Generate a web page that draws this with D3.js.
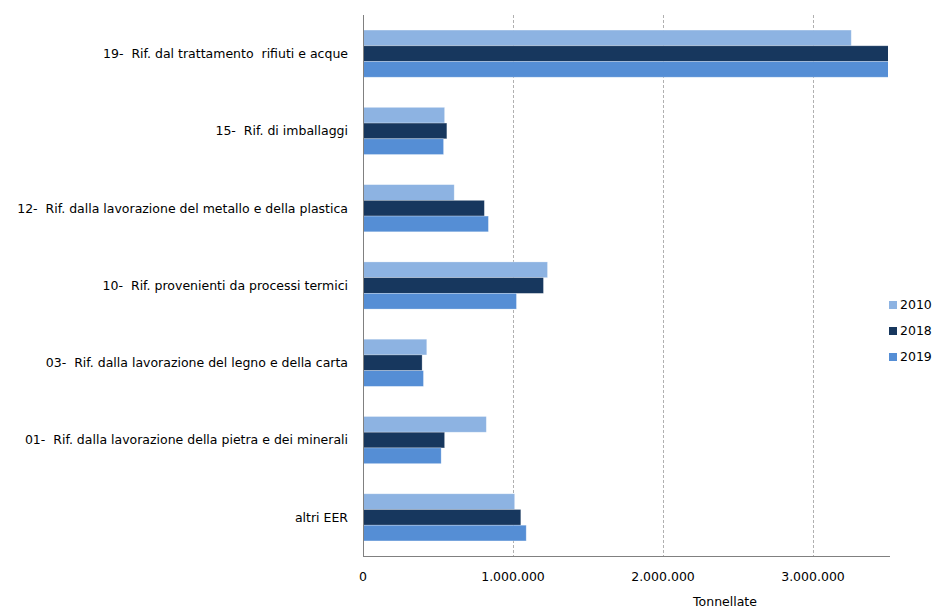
<!DOCTYPE html>
<html>
<head>
<meta charset="utf-8">
<script src="https://cdn.jsdelivr.net/npm/d3@7"></script>
<style>
  body { margin: 0; background: #fff; }
  svg { display: block; }
  text { font-family: "DejaVu Sans", Verdana, sans-serif; fill: #000; white-space: pre; }
</style>
</head>
<body>
<svg id="chart" width="932" height="608"></svg>
<script>
// Rifiuti per capitolo EER (tonnellate)
const categories = [
  "19-  Rif. dal trattamento  rifiuti e acque",
  "15-  Rif. di imballaggi",
  "12-  Rif. dalla lavorazione del metallo e della plastica",
  "10-  Rif. provenienti da processi termici",
  "03-  Rif. dalla lavorazione del legno e della carta",
  "01-  Rif. dalla lavorazione della pietra e dei minerali",
  "altri EER"
];
const years = ["2010", "2018", "2019"];
const values2010 = [3255000, 544000, 608000, 1230000, 425000, 822000, 1011000];
const values2018 = [3620000, 559000, 809000, 1203000, 394000, 544000, 1052000];
const values2019 = [3680000, 537000, 836000, 1023000, 403000, 521000, 1088000];
const xTicks = [0, 1000000, 2000000, 3000000];
const colors = ["#8DB3E2", "#17375E", "#558ED5"];

const series = [values2010, values2018, values2019];
const svg = d3.select("#chart");
const plotLeft = 363, plotRight = 888, plotTop = 15, plotBottom = 556;

const x = d3.scaleLinear().domain([0, 3500000]).range([plotLeft, plotRight]);
const y = d3.scaleBand().domain(categories).range([plotTop, plotBottom]).paddingInner(0.39).paddingOuter(0.195);
const yInner = d3.scaleBand().domain(years).range([0, y.bandwidth()]);

svg.append("defs").append("clipPath").attr("id", "plot")
  .append("rect").attr("x", plotLeft).attr("y", plotTop)
  .attr("width", plotRight - plotLeft).attr("height", plotBottom - plotTop);

// dashed vertical gridlines
svg.append("g").selectAll("line").data(xTicks.slice(1)).join("line")
  .attr("x1", d => Math.round(x(d)) + 0.5).attr("x2", d => Math.round(x(d)) + 0.5)
  .attr("y1", plotTop).attr("y2", plotBottom)
  .attr("stroke", "#b0b0b0").attr("stroke-dasharray", "3,2").attr("stroke-width", 1);

// bars, with a faint light edge
const bars = svg.append("g").attr("clip-path", "url(#plot)");
years.forEach((yr, i) => {
  bars.append("g").selectAll("rect").data(categories).join("rect")
    .attr("x", x(0))
    .attr("y", (c) => y(c) + yInner(yr))
    .attr("width", (c, j) => x(series[i][j]) - x(0))
    .attr("height", yInner.bandwidth())
    .attr("fill", colors[i])
    .attr("stroke", "#ffffff").attr("stroke-opacity", 0.35).attr("stroke-width", 0.75);
});

// axes
svg.append("line").attr("x1", plotLeft + 0.5).attr("x2", plotLeft + 0.5)
  .attr("y1", plotTop).attr("y2", plotBottom).attr("stroke", "#808080");
svg.append("line").attr("x1", plotLeft).attr("x2", plotRight + 2)
  .attr("y1", plotBottom + 0.5).attr("y2", plotBottom + 0.5).attr("stroke", "#808080");

const fmt = d => d === 0 ? "0" : d3.format(",")(d).replace(/,/g, ".");
svg.append("g").selectAll("text").data(xTicks).join("text")
  .attr("x", d => x(d)).attr("y", 581)
  .attr("text-anchor", d => d === 0 ? "start" : "middle")
  .attr("dx", d => d === 0 ? -4 : 0)
  .attr("font-size", 12.5)
  .text(fmt);

svg.append("text").attr("x", 725).attr("y", 606).attr("text-anchor", "middle")
  .attr("font-size", 12.5).text("Tonnellate");

// category labels
svg.append("g").selectAll("text").data(categories).join("text")
  .attr("x", 348).attr("y", c => y(c) + y.bandwidth() / 2)
  .attr("dy", "0.35em").attr("text-anchor", "end")
  .attr("font-size", 12.5)
  .text(c => c);

// legend
const legend = svg.append("g").selectAll("g").data(years).join("g")
  .attr("transform", (d, i) => `translate(889, ${305 + i * 26})`);
legend.append("rect").attr("x", 0).attr("y", -4).attr("width", 8).attr("height", 8)
  .attr("fill", (d, i) => colors[i]);
legend.append("text").attr("x", 11).attr("dy", "0.35em").attr("font-size", 12.5).text(d => d);
</script>
</body>
</html>
